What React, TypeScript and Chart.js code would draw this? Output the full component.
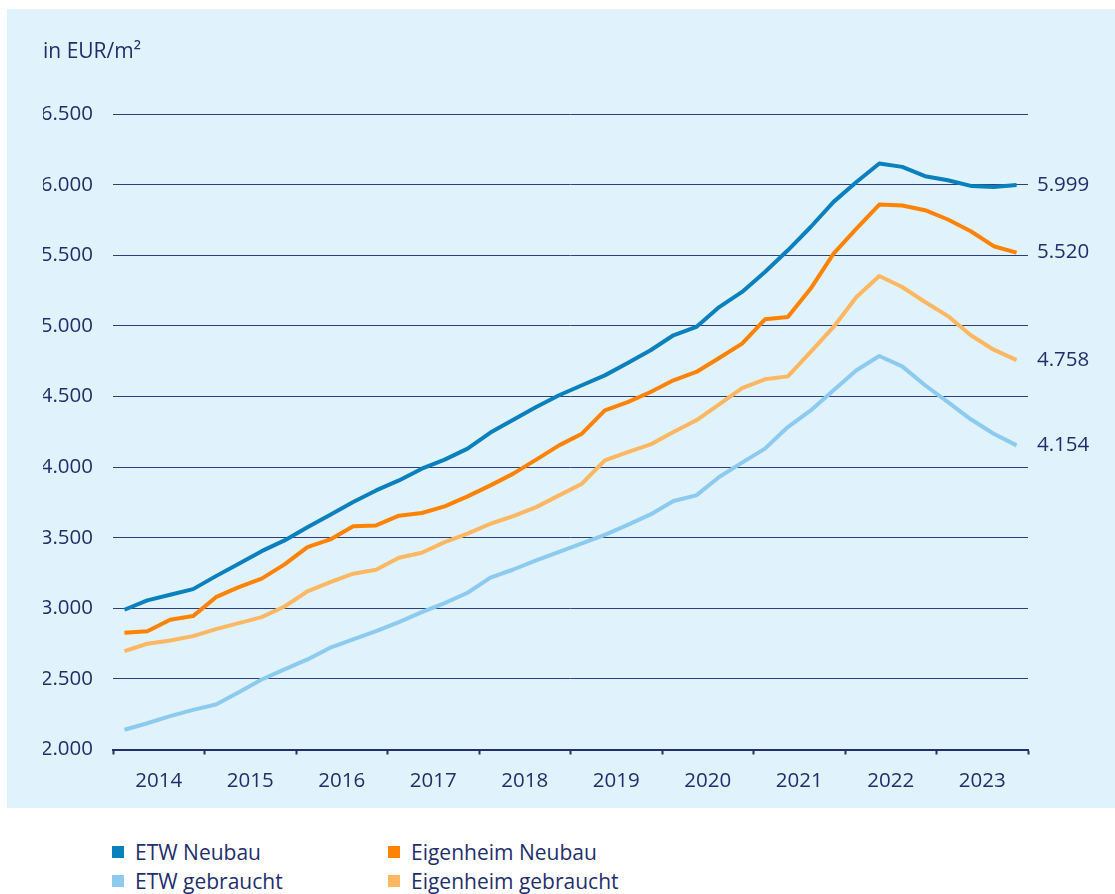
import React, { useEffect, useRef } from 'react';
import { Chart, registerables } from 'chart.js';

Chart.register(...registerables);

// ---- Data (quarterly, 2014 Q1 – 2023 Q4), EUR/m² ----
const years = ['2014', '2015', '2016', '2017', '2018', '2019', '2020', '2021', '2022', '2023'];
const quarters = years.flatMap((y) => ['Q1', 'Q2', 'Q3', 'Q4'].map((q) => `${q} ${y}`));

const etwNeubau = [
  2990, 3056, 3096, 3136, 3228, 3316, 3405, 3481, 3575, 3663,
  3753, 3835, 3906, 3989, 4053, 4131, 4245, 4336, 4426, 4509,
  4580, 4650, 4738, 4828, 4934, 4993, 5134, 5241, 5382, 5536,
  5701, 5879, 6020, 6151, 6127, 6061, 6032, 5992, 5985, 5999,
];
const eigenheimNeubau = [
  2827, 2838, 2919, 2945, 3079, 3150, 3210, 3311, 3434, 3488,
  3582, 3587, 3656, 3675, 3722, 3793, 3871, 3954, 4053, 4154,
  4237, 4402, 4461, 4532, 4615, 4674, 4773, 4875, 5047, 5064,
  5265, 5513, 5690, 5860, 5853, 5820, 5754, 5671, 5565, 5520,
];
const etwGebraucht = [
  2140, 2186, 2236, 2281, 2319, 2406, 2496, 2567, 2638, 2721,
  2780, 2838, 2902, 2973, 3037, 3110, 3217, 3275, 3340, 3400,
  3460, 3520, 3591, 3665, 3760, 3800, 3930, 4032, 4131, 4284,
  4402, 4544, 4686, 4787, 4714, 4580, 4461, 4339, 4237, 4154,
];
const eigenheimGebraucht = [
  2697, 2749, 2772, 2803, 2853, 2895, 2938, 3013, 3120, 3186,
  3245, 3273, 3358, 3394, 3469, 3529, 3599, 3653, 3717, 3800,
  3883, 4048, 4107, 4161, 4249, 4332, 4445, 4560, 4622, 4643,
  4816, 4993, 5205, 5354, 5276, 5170, 5070, 4934, 4832, 4758,
];

const seriesNames = ['ETW Neubau', 'Eigenheim Neubau', 'ETW gebraucht', 'Eigenheim gebraucht'];
const seriesValues = [etwNeubau, eigenheimNeubau, etwGebraucht, eigenheimGebraucht];
const seriesColors = ['#0a80be', '#ff8200', '#8ccbef', '#fdb762'];

const yMin = 2000;
const yMax = 6500;
const yStep = 500;
const unitLabel = 'in EUR/m²';

// legend layout: rows of series indices
const legendRows = [
  [0, 1],
  [2, 3],
];

const NAVY = '#1f2f6c';
const GRID = '#2d4079';
const PANEL = '#e0f2fc';
const FONT = "'Open Sans', 'Noto Sans', sans-serif";

const fmt = (v: number) => String(Math.round(v)).replace(/\B(?=(\d{3})+(?!\d))/g, '.');

export default function App() {
  const ref = useRef<HTMLCanvasElement | null>(null);

  useEffect(() => {
    if (!ref.current) return;
    Chart.defaults.font.family = FONT;
    const lastValues = seriesValues.map((s) => s[s.length - 1]);
    const chart = new Chart(ref.current, {
      type: 'line',
      data: {
        labels: quarters,
        datasets: seriesValues.map((s, k) => ({
          label: seriesNames[k],
          data: s.map((v, i) => ({ x: i, y: v })),
          borderColor: seriesColors[k],
          backgroundColor: seriesColors[k],
          borderWidth: 4,
          pointRadius: 0,
          tension: 0,
          borderJoinStyle: 'round',
          borderCapStyle: 'butt',
        })),
      },
      options: {
        animation: false,
        responsive: false,
        maintainAspectRatio: false,
        layout: { padding: { left: 36, right: 0, top: 0, bottom: 0 } },
        plugins: {
          legend: { display: false },
          tooltip: { enabled: false },
          title: {
            display: true,
            text: unitLabel,
            align: 'start',
            color: NAVY,
            font: { size: 21, weight: 'normal', family: FONT },
            padding: { top: 30, bottom: 50 },
          },
        },
        scales: {
          x: {
            type: 'linear',
            min: -0.5,
            max: quarters.length - 0.5,
            afterBuildTicks: (scale: any) => {
              const t: { value: number }[] = [];
              for (let i = 0; i <= years.length * 2; i++) t.push({ value: -0.5 + i * 2 });
              scale.ticks = t;
            },
            afterFit: (scale: any) => {
              scale.height = 58.5;
            },
            ticks: {
              autoSkip: false,
              maxRotation: 0,
              color: NAVY,
              font: { size: 20.5, family: FONT },
              padding: 14,
              callback: (_v: any, index: number) => (index % 2 === 1 ? years[(index - 1) / 2] : ''),
            },
            grid: {
              drawOnChartArea: false,
              drawTicks: true,
              tickLength: 5,
              tickWidth: 2,
              tickColor: (ctx: any) => (ctx.index !== undefined && ctx.index % 2 === 0 ? NAVY : 'rgba(0,0,0,0)'),
            },
            border: { display: true, color: NAVY, width: 2 },
          },
          y: {
            min: yMin,
            max: yMax,
            afterFit: (scale: any) => {
              scale.width = 70;
            },
            ticks: {
              stepSize: yStep,
              color: NAVY,
              font: { size: 20.5, family: FONT },
              padding: 20,
              callback: (v: any) => fmt(Number(v)),
            },
            grid: { color: GRID, lineWidth: 1, drawTicks: false },
            border: { display: false },
          },
          y2: {
            position: 'right',
            min: yMin,
            max: yMax,
            afterBuildTicks: (scale: any) => {
              scale.ticks = lastValues.map((v) => ({ value: v }));
            },
            afterFit: (scale: any) => {
              scale.width = 87;
            },
            ticks: {
              autoSkip: false,
              color: NAVY,
              font: { size: 20.5, family: FONT },
              padding: 9,
              callback: (v: any) => fmt(Number(v)),
            },
            grid: { display: false, drawTicks: false },
            border: { display: false },
          },
        },
      } as any,
    });
    return () => chart.destroy();
  }, []);

  return (
    <div style={{ position: 'fixed', left: 0, top: 0, width: 1115, height: 894, background: '#fff', overflow: 'hidden' }}>
      <div style={{ position: 'absolute', left: 7, top: 9, width: 1108, height: 799, background: PANEL }}>
        <canvas ref={ref} width={1108} height={799} style={{ width: 1108, height: 799, display: 'block' }} />
      </div>
      {legendRows.map((row, r) =>
        row.map((k, c) => (
          <div
            key={`${r}-${c}`}
            style={{
              position: 'absolute',
              left: c === 0 ? 112 : 388,
              top: 840 + r * 29,
              height: 24,
              display: 'flex',
              alignItems: 'center',
              fontFamily: FONT,
              fontSize: 21,
              color: NAVY,
              whiteSpace: 'nowrap',
            }}
          >
            <span style={{ display: 'inline-block', width: 12, height: 12, background: seriesColors[k], marginRight: 11 }} />
            <span>{seriesNames[k]}</span>
          </div>
        ))
      )}
    </div>
  );
}
